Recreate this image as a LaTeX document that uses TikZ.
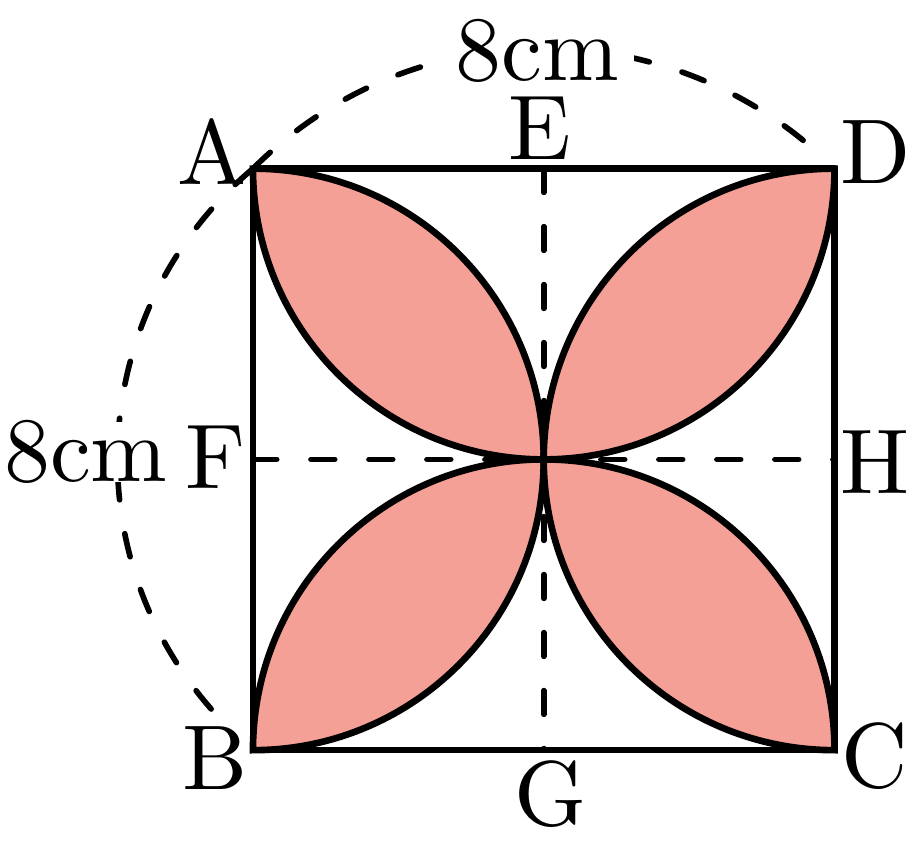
\documentclass[tikz,border=0pt]{standalone}
\definecolor{petalred}{RGB}{245,160,150}
\font\labelfont=cmr10 at 36pt
\begin{document}
\begin{tikzpicture}[
    line width=2.6pt,
    petal/.style={fill=petalred, draw=black, line width=2.6pt},
    dimline/.style={line width=2.2pt, dash pattern=on 9.3pt off 13.4pt, line cap=round},
    lbl/.style={font=\labelfont, inner sep=0pt},
    dimlbl/.style={lbl, fill=white, inner xsep=6pt, inner ysep=0pt}
]

    \useasboundingbox (-3.48,-1.43) rectangle (9.08,10.32);

    \coordinate (B) at (0,0);
    \coordinate (C) at (8,0);
    \coordinate (D) at (8,8);
    \coordinate (A) at (0,8);
    \coordinate (E) at (4,8);
    \coordinate (F) at (0,4);
    \coordinate (G) at (4,0);
    \coordinate (H) at (8,4);

    % dashed lines
    \draw [dimline] (E) -- (G);
    \draw [dimline] (F) -- (H);
    \draw [dimline] (A) arc [start angle=135, end angle=47, radius=5.657];
    \draw [dimline] (A) arc [start angle=130, end angle=222, radius=5.22];

    % petals
    \filldraw [petal] (A) arc [start angle=90, end angle=0, radius=4]
        arc [start angle=270, end angle=180, radius=4] -- cycle;
    \filldraw [petal] (D) arc [start angle=90, end angle=180, radius=4]
        arc [start angle=270, end angle=360, radius=4] -- cycle;
    \filldraw [petal] (B) arc [start angle=270, end angle=360, radius=4]
        arc [start angle=90, end angle=180, radius=4] -- cycle;
    \filldraw [petal] (C) arc [start angle=270, end angle=180, radius=4]
        arc [start angle=90, end angle=0, radius=4] -- cycle;

    \draw [line join=round] (A) -- (D) -- (C) -- (B) -- cycle;

    \node [lbl] (lA) at (-0.56,8.21) {A};
    \node [lbl] (lE) at (3.95,8.56) {E};
    \node [lbl] (lD) at (8.56,8.23) {D};
    \node [lbl] (lF) at (-0.52,4.03) {F};
    \node [lbl] (lH) at (8.56,3.96) {H};
    \node [lbl] (lB) at (-0.52,-0.11) {B};
    \node [lbl] (lC) at (8.56,-0.08) {C};
    \node [lbl] (lG) at (4.09,-0.60) {G};

    \node [dimlbl] (top) at (3.91,9.62) {8cm};
    \node [dimlbl] (left) at (-2.30,4.10) {8cm};

\end{tikzpicture}
\end{document}
